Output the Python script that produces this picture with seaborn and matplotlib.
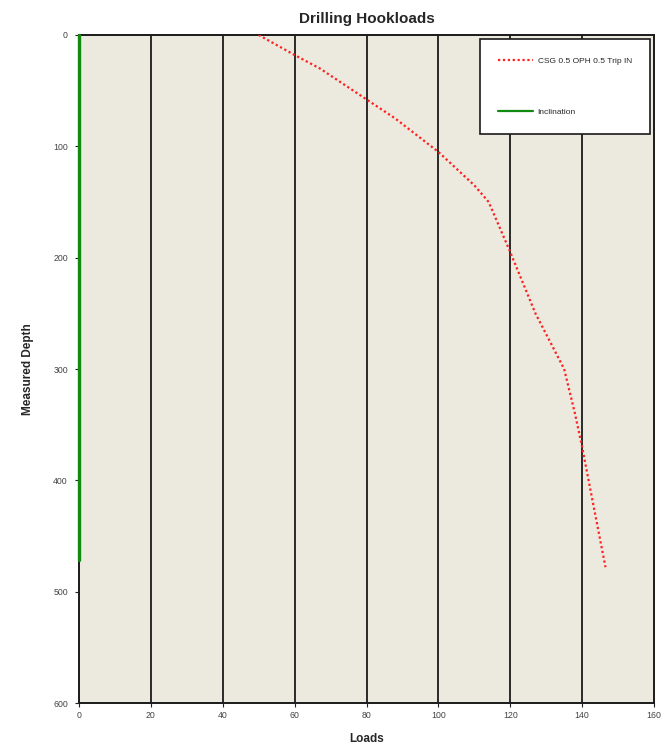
import numpy as np
import pandas as pd
import matplotlib.pyplot as plt
import seaborn as sns

# trip-in hookload curve
trip_load = [50, 60, 67, 74, 81, 88, 94, 100, 105, 110, 114, 120, 127, 135, 138, 140, 143, 146.5]
trip_depth = [0, 18, 30, 45, 60, 75, 90, 105, 120, 135, 150, 195, 250, 300, 340, 370, 420, 478]

# inclination trace (vertical well)
incl_load = [0, 0]
incl_depth = [0, 472]

x_ticks = [0, 20, 40, 60, 80, 100, 120, 140, 160]
y_ticks = [0, 100, 200, 300, 400, 500, 600]

trip = pd.DataFrame({'load': trip_load, 'depth': trip_depth})
incl = pd.DataFrame({'load': incl_load, 'depth': incl_depth})

sns.set_style('white')
plt.rcParams['font.family'] = ['Liberation Sans', 'DejaVu Sans']

fig = plt.figure(figsize=(6.72, 7.44), dpi=100)
ax = fig.add_axes([79 / 672, 1 - 703 / 744, 575 / 672, 668 / 744])
ax.set_facecolor('#ECE9DF')

for xv in x_ticks[1:-1]:
    ax.axvline(xv, color='#1a1a1a', lw=1.3, zorder=1)

sns.lineplot(data=trip, x='load', y='depth', sort=False, estimator=None, ax=ax,
             color='#FF2020', lw=1.6, linestyle=(0, (1, 1.2)),
             label='CSG 0.5 OPH 0.5 Trip IN', zorder=3)
sns.lineplot(data=incl, x='load', y='depth', sort=False, estimator=None, ax=ax,
             color='#108A10', lw=2.4, label='Inclination', zorder=4, clip_on=False)

ax.set_xlim(0, 160)
ax.set_ylim(600, 0)
ax.set_xticks(x_ticks)
ax.set_yticks(y_ticks)
ax.tick_params(axis='both', labelsize=6.3, labelcolor='#444444', length=3, width=0.8,
               color='#222222', direction='out', bottom=True, left=True)
ax.tick_params(axis='y', pad=5)
ax.tick_params(axis='x', pad=3)
for s in ax.spines.values():
    s.set_color('#1a1a1a')
    s.set_linewidth(1.4)

ax.set_title('Drilling Hookloads', fontsize=11, fontweight='bold', pad=9)
ax.set_xlabel('Loads', fontsize=8.5, fontweight='bold', labelpad=9)
ax.set_ylabel('Measured Depth', fontsize=8.5, fontweight='bold', labelpad=14)

leg = ax.legend(loc='upper right', bbox_to_anchor=(0.996, 0.997), fontsize=6,
                frameon=True, fancybox=False, edgecolor='#1a1a1a', facecolor='white',
                framealpha=1, labelspacing=5.2, borderpad=2.2, handlelength=4.2,
                handletextpad=0.5, borderaxespad=0.2)
leg.get_frame().set_linewidth(1.2)
leg.set_zorder(5)
for line in leg.get_lines():
    line.set_linewidth(1.6)

fig.savefig('out.png', dpi=100)
